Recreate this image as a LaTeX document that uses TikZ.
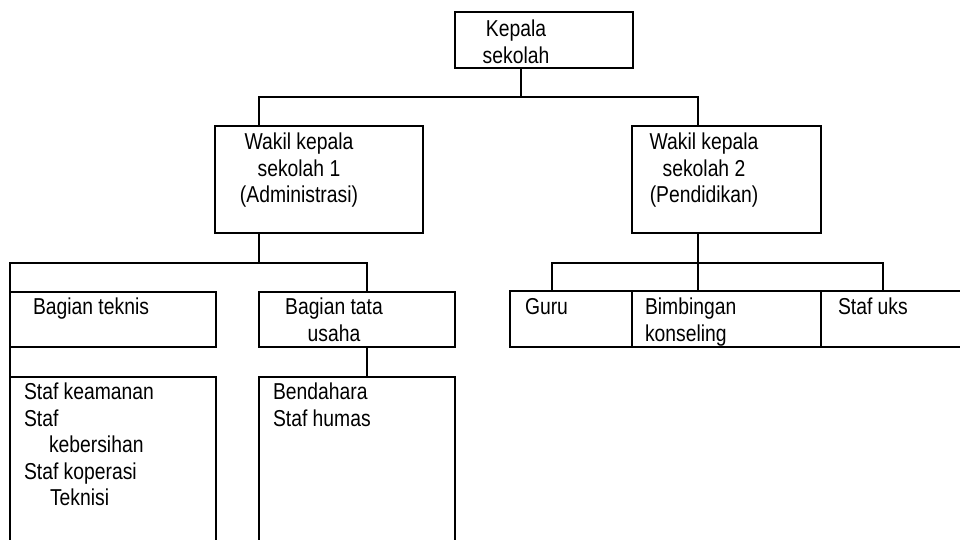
\documentclass[tikz,border=0pt]{standalone}
\usepackage{fontspec}
\setmainfont[FakeStretch=0.84]{Liberation Sans}
\usepackage{tikz}
\usetikzlibrary{positioning}
\tikzstyle{box} = [draw, line width=1.4pt, inner sep=0pt, outer sep=0pt, anchor=north west]
\tikzstyle{txt} = [inner sep=0pt, outer sep=0pt, font=\fontsize{23pt}{26.5pt}\selectfont]
\tikzstyle{line} = [line width=1.4pt]

\begin{document}
\begin{tikzpicture}[x=1pt, y=1pt]
        \useasboundingbox (0,0) rectangle (960,-539);
        \clip (0,0) rectangle (960,-539);
        % Boxes
        \node[box, minimum width=178pt, minimum height=56pt] (kepala) at (455,-12) {};
        \node[box, minimum width=208pt, minimum height=107pt] (w1) at (215,-126) {};
        \node[box, minimum width=189pt, minimum height=107pt] (w2) at (632,-126) {};
        \node[box, minimum width=206pt, minimum height=55pt] (teknis) at (10,-292) {};
        \node[box, minimum width=196pt, minimum height=55pt] (tatausaha) at (259,-292) {};
        \node[box, minimum width=206pt, minimum height=200pt, below=30pt of teknis.south west, anchor=north west] (stafbox) {};
        \node[box, minimum width=196pt, minimum height=200pt, below=30pt of tatausaha.south west, anchor=north west] (bendahara) {};
        \node[box, minimum width=122pt, minimum height=56pt] (guru) at (510,-291) {};
        \node[box, minimum width=189pt, minimum height=56pt, right=0pt of guru] (bimbingan) {};
        \node[box, minimum width=200pt, minimum height=56pt, right=0pt of bimbingan] (stafuks) {};
        % Texts
        \node[txt, align=center, anchor=north] (kepalatxt) at ([shift={(61,-8.2)}]kepala.north west) {Kepala\\sekolah};
        \node[txt, align=center, anchor=north] (w1txt) at ([shift={(84,-7.2)}]w1.north west) {Wakil kepala\\sekolah 1\\(Administrasi)};
        \node[txt, align=center, anchor=north] (w2txt) at ([shift={(72,-7.2)}]w2.north west) {Wakil kepala\\sekolah 2\\(Pendidikan)};
        \node[txt, anchor=north west] (teknistxt) at ([shift={(23,-6.2)}]teknis.north west) {Bagian teknis};
        \node[txt, align=center, anchor=north] (tatausahatxt) at ([shift={(75,-6.2)}]tatausaha.north west) {Bagian tata\\usaha};
        \node[txt, align=left, anchor=north west] (staftxt) at ([shift={(14,-6.2)}]stafbox.north west) {Staf keamanan\\Staf\\\hspace*{25pt}kebersihan\\Staf koperasi\\\hspace*{26pt}Teknisi};
        \node[txt, align=left, anchor=north west] (bendaharatxt) at ([shift={(14,-6.2)}]bendahara.north west) {Bendahara\\Staf humas};
        \node[txt, anchor=north west] (gurutxt) at ([shift={(15,-7.2)}]guru.north west) {Guru};
        \node[txt, align=left, anchor=north west] (bimbingantxt) at ([shift={(13,-7.2)}]bimbingan.north west) {Bimbingan\\konseling};
        \node[txt, anchor=north west] (stafukstxt) at ([shift={(17,-7.2)}]stafuks.north west) {Staf uks};
        % Lines
        \coordinate (k1) at (521,-97);
        \coordinate (a1) at (259,-263);
        \coordinate (a2) at (698,-263);
        \draw[line] (k1 |- kepala.south) -- (k1);
        \draw[line] ([xshift=44pt]w1.north west) |- (k1) -| ([xshift=66pt]w2.north west);
        \draw[line] (a1 |- w1.south) -- (a1);
        \draw[line] (teknis.north west) |- (a1) -| ([xshift=108pt]tatausaha.north west);
        \draw[line] (teknis.south west) -- (stafbox.north west);
        \draw[line] ([xshift=108pt]tatausaha.south west) -- ([xshift=108pt]bendahara.north west);
        \draw[line] (a2 |- w2.south) -- (a2);
        \draw[line] ([xshift=42pt]guru.north west) |- (a2) -| ([xshift=62pt]stafuks.north west);
        \draw[line] (a2) -- (a2 |- bimbingan.north);
\end{tikzpicture}
\end{document}
